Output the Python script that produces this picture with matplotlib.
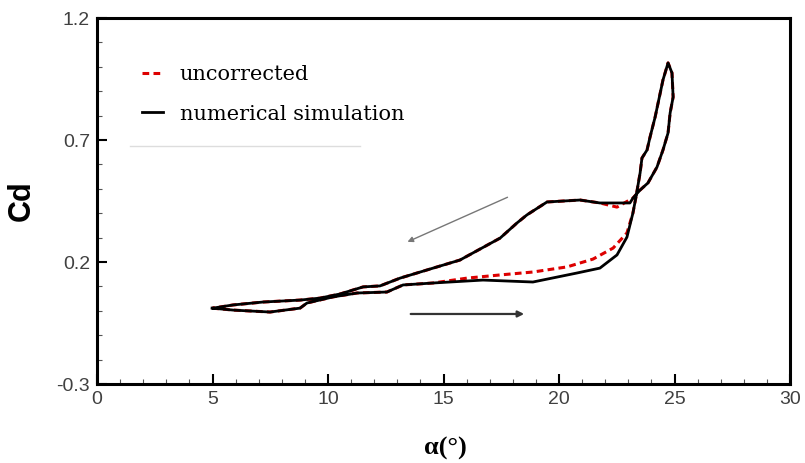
import numpy as np
import matplotlib.pyplot as plt
from matplotlib.ticker import MultipleLocator

plt.rcParams['axes.unicode_minus'] = False

# hysteresis loop of drag coefficient, upstroke (lower branch) then downstroke (upper branch)
alpha_sim = [4.98, 5.89, 7.49, 8.79, 9.09, 10.22, 11.26, 12.55, 13.25, 14.55, 16.71, 18.87,
             20.78, 21.77, 22.51, 22.94, 23.20, 23.33, 23.51, 23.59, 23.81, 23.94, 24.16,
             24.29, 24.50, 24.72,
             24.89, 24.94, 24.81, 24.72, 24.50, 24.24, 23.85, 23.51, 23.20, 23.07, 21.77,
             20.91, 19.48, 18.61, 18.18, 17.45, 15.71, 14.55, 13.12, 12.25, 11.52, 10.52,
             9.65, 8.79, 7.19, 5.89, 5.02]
cd_sim = [0.011, 0.003, -0.005, 0.011, 0.032, 0.057, 0.073, 0.077, 0.106, 0.114, 0.126, 0.118,
          0.155, 0.175, 0.229, 0.302, 0.401, 0.466, 0.565, 0.626, 0.659, 0.712, 0.794,
          0.852, 0.946, 1.016,
          0.975, 0.876, 0.811, 0.729, 0.659, 0.589, 0.524, 0.495, 0.462, 0.442, 0.442,
          0.454, 0.446, 0.393, 0.360, 0.298, 0.208, 0.175, 0.134, 0.102, 0.098, 0.069,
          0.052, 0.044, 0.036, 0.024, 0.011]

alpha_unc = [4.98, 5.89, 7.49, 8.79, 9.09, 10.22, 11.26, 12.55, 13.25, 14.55, 16.02, 17.45,
             18.87, 20.35, 21.47, 22.34, 22.94, 23.20, 23.33, 23.51, 23.59, 23.81, 23.94,
             24.16, 24.29, 24.50, 24.72,
             24.89, 24.94, 24.81, 24.72, 24.50, 24.24, 23.85, 23.51, 23.20, 22.51, 21.77,
             20.91, 19.48, 18.61, 18.18, 17.45, 15.71, 14.55, 13.12, 12.25, 11.52, 10.52,
             9.65, 8.79, 7.19, 5.89, 5.02]
cd_unc = [0.011, 0.003, -0.005, 0.011, 0.032, 0.057, 0.073, 0.077, 0.106, 0.114, 0.134, 0.147,
          0.159, 0.180, 0.212, 0.257, 0.319, 0.401, 0.466, 0.565, 0.626, 0.659, 0.712,
          0.794, 0.852, 0.946, 1.016,
          0.975, 0.876, 0.811, 0.729, 0.659, 0.589, 0.524, 0.495, 0.462, 0.425, 0.442,
          0.454, 0.446, 0.393, 0.360, 0.298, 0.208, 0.175, 0.134, 0.102, 0.098, 0.069,
          0.052, 0.044, 0.036, 0.024, 0.011]

fig = plt.figure(figsize=(8.05, 4.63), dpi=100)
ax = fig.add_axes([0.1205, 0.1706, 0.8609, 0.7905])

ax.plot(alpha_unc, cd_unc, color='#dd0000', lw=2.2, dashes=(2.2, 1.4), label='uncorrected')
ax.plot(alpha_sim, cd_sim, color='k', lw=2.0, label='numerical simulation')

# direction arrows: downstroke (upper) and upstroke (lower)
ax.annotate('', xy=(13.33, 0.278), xytext=(17.88, 0.470),
            arrowprops=dict(arrowstyle='-|>', color='#777777', lw=1.0, mutation_scale=8))
ax.annotate('', xy=(18.61, -0.013), xytext=(13.46, -0.013),
            arrowprops=dict(arrowstyle='-|>', color='#333333', lw=1.6, mutation_scale=9))

ax.set_xlim(0, 30)
ax.set_ylim(-0.3, 1.2)
ax.set_xticks([0, 5, 10, 15, 20, 25, 30])
ax.set_yticks([-0.3, 0.2, 0.7, 1.2])
ax.xaxis.set_minor_locator(MultipleLocator(1))
ax.yaxis.set_minor_locator(MultipleLocator(0.1))
ax.tick_params(which='major', direction='in', length=7.2, width=1.5, labelsize=14,
               labelcolor='#404040', pad=5)
ax.tick_params(which='minor', direction='in', length=3.6, width=0.8, color='#555555')
for lab in ax.get_xticklabels() + ax.get_yticklabels():
    lab.set_family('Liberation Sans')
for s in ax.spines.values():
    s.set_linewidth(2.2)

ax.set_ylabel('Cd', fontsize=22, fontweight='bold', family='Liberation Sans')
ax.yaxis.set_label_coords(-0.087, 0.5)
ax.set_xlabel('α(°)', fontsize=19, fontweight='bold', family='Liberation Serif')
ax.xaxis.set_label_coords(0.502, -0.145)

leg = ax.legend(loc='upper left', bbox_to_anchor=(0.065, 0.872), frameon=False,
                prop={'family': 'DejaVu Serif', 'size': 15}, handlelength=1.0,
                handletextpad=0.8, labelspacing=1.0, borderpad=0, borderaxespad=0)

# faint rule under the legend
ax.plot([0.048, 0.380], [0.650, 0.650], transform=ax.transAxes, color='#dddddd', lw=1)

fig.savefig('out.png', dpi=100)
